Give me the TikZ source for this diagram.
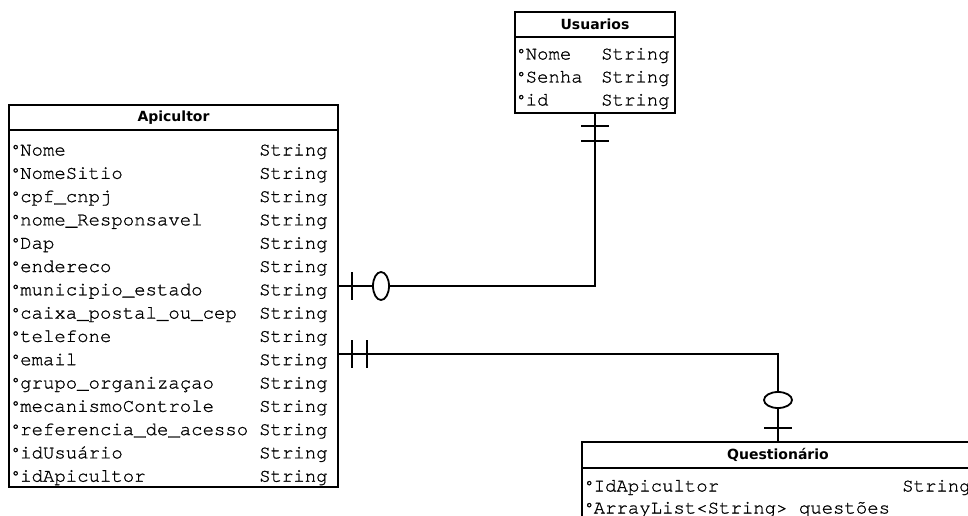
\documentclass[tikz,border=0pt]{standalone}
\usepackage{fontspec}
\setsansfont{DejaVu Sans}
\newfontfamily\fieldfont{TeX Gyre Cursor}[FakeBold=0.9]
\usetikzlibrary{positioning}
\newcommand{\fieldmark}{\raisebox{1pt}{\fontsize{15}{15}\selectfont°}}
\tikzset{
  x=1pt,y=-1pt,
  head/.style={draw,line width=1.8pt,outer sep=0pt,minimum height=25pt,
    font=\sffamily\bfseries\fontsize{14}{16}\selectfont},
  body/.style={draw,line width=1.8pt,outer sep=0pt},
  field/.style={anchor=base west,inner sep=0pt,font=\fieldfont\fontsize{19}{19}\selectfont},
  conn/.style={line width=1.8pt},
  % crow's foot marks
  pics/bar/.style={code={\draw[conn] (0,-14) -- (0,14);}},
  pics/ring/.style={code={\draw[conn,fill=white] (0,0) ellipse (8 and 14);}},
}
\begin{document}
\begin{tikzpicture}
  \useasboundingbox (0,0) rectangle (968,516);
  \clip (0,0) rectangle (968,516);
  \fill[white] (0,0) rectangle (968,516);
  % Apicultor
  \node[head,minimum width=329pt] (apic) at (173.5,117.5) {Apicultor};
  \node[body,minimum width=329pt,minimum height=357pt,below=0pt of apic] (apicbody) {};
  \foreach \f [count=\i from 0] in {Nome,NomeSitio,cpf\_cnpj,nome\_Responsavel,Dap,endereco,
      municipio\_estado,caixa\_postal\_ou\_cep,telefone,email,grupo\_organizaçao,
      mecanismoControle,referencia\_de\_acesso,idUsuário,idApicultor}{
    \node[field] (apicf\i) at (11,155.5+23.3*\i) {\fieldmark\f};
    \node[field] (apict\i) at (259,155.5+23.3*\i) {String};
  }
  % Usuarios
  \node[head,minimum width=160pt] (usr) at (595,24.5) {Usuarios};
  \node[body,minimum width=160pt,minimum height=76pt,below=0pt of usr] (usrbody) {};
  \foreach \f [count=\i from 0] in {Nome,Senha,id}{
    \node[field] (usrf\i) at (516.5,59.5+23*\i) {\fieldmark\f};
    \node[field] (usrt\i) at (601,59.5+23*\i) {String};
  }
  % Questionario
  \node[head,minimum width=392pt,minimum height=26pt] (quest) at (778,455) {Questionário};
  \node[body,minimum width=392pt,minimum height=80pt,below=0pt of quest] (questbody) {};
  \node[field] (questf0) at (584.5,491.5) {\fieldmark IdApicultor};
  \node[field] (questt0) at (902,491.5) {String};
  \node[field] (questf1) at (584.5,513.5) {\fieldmark ArrayList<String> questões};
  % relations
  \coordinate (apic1) at ([yshift=22.5pt]apicbody.east);
  \coordinate (apic2) at ([yshift=-45.5pt]apicbody.east);
  \draw[conn] (usrbody.south) |- (apic1);
  \draw[conn] (apic2) -| (quest.north);
  \pic[rotate=90] at ([yshift=-13pt]usrbody.south) {bar};
  \pic[rotate=90] at ([yshift=-28pt]usrbody.south) {bar};
  \pic at ([xshift=14pt]apic1) {bar};
  \pic at ([xshift=43pt]apic1) {ring};
  \pic at ([xshift=14pt]apic2) {bar};
  \pic at ([xshift=29pt]apic2) {bar};
  \pic[rotate=90] at ([yshift=14pt]quest.north) {bar};
  \pic[rotate=90] at ([yshift=42pt]quest.north) {ring};
\end{tikzpicture}
\end{document}
